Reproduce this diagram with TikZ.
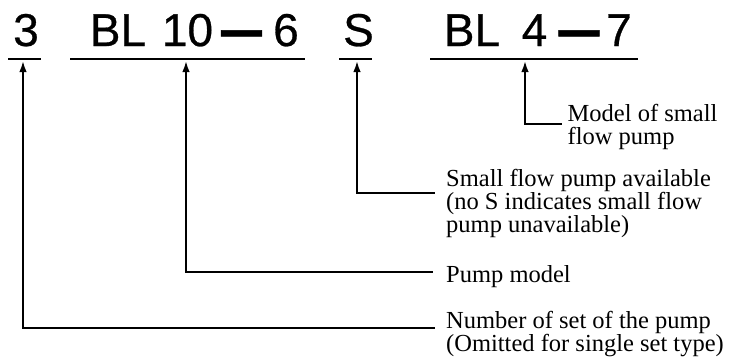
\documentclass[tikz,border=0pt]{standalone}
\usepackage{fontspec}
\setmainfont{Liberation Serif}
\newfontfamily\codefont[FakeBold=0.6]{Liberation Sans}
\usetikzlibrary{arrows.meta}
\begin{document}
\begin{tikzpicture}[x=1pt,y=-1pt,
  code/.style={font=\codefont\fontsize{46}{50}\selectfont, inner sep=0pt, anchor=base},
  codedash/.style={font=\codefont\fontsize{46}{50}\selectfont, inner sep=0pt, anchor=base},
  uline/.style={line width=2pt},
  conn/.style={line width=1.8pt, arrows={Latex[length=11pt,width=7.5pt]-}},
  lab/.style={font=\fontsize{24.5}{23}\selectfont, inner sep=0pt, anchor=base west}]
\useasboundingbox (0,0) rectangle (742,360);
% code line
\node[code] (c3) at (26,46) {3};
\node[code,anchor=base west] (cbl1) at (89.6,46) {BL};
\node[code] (c10) at (187.5,46) {10};
\node[codedash] (cd1) at (241.5,55.5) {\scalebox{1.6}[1.9]{–}};
\node[code] (c6) at (286,46) {6};
\node[code] (cs) at (358.5,46) {S};
\node[code,anchor=base west] (cbl2) at (443.6,46) {BL};
\node[code] (c4) at (534.5,46) {4};
\node[codedash] (cd2) at (579,55.5) {\scalebox{1.6}[1.9]{–}};
\node[code] (c7) at (619,46) {7};
% underlines
\draw[uline] (8,59) -- (41,59);
\draw[uline] (70,59) -- (305,59);
\draw[uline] (339,59) -- (372,59);
\draw[uline] (430,59) -- (638,59);
% connector coordinates
\coordinate (a3) at (23,61);
\coordinate (e3) at (435,328);
\coordinate (a10) at (186,61);
\coordinate (e10) at (433,272);
\coordinate (as) at (357,61);
\coordinate (es) at (435,193);
\coordinate (a4) at (525,61);
\coordinate (e4) at (562,124);
\draw[conn] (a3) |- (e3);
\draw[conn] (a10) |- (e10);
\draw[conn] (as) |- (es);
\draw[conn] (a4) |- (e4);
% labels
\node[lab] (m1) at (567.5,121) {Model of small};
\node[lab] (m2) at (567.5,144) {flow pump};
\node[lab] (s1) at (446,186) {Small flow pump available};
\node[lab] (s2) at (446,209) {(no S indicates small flow};
\node[lab] (s3) at (446,232) {pump unavailable)};
\node[lab] (p1) at (446,282) {Pump model};
\node[lab] (n1) at (446,328) {Number of set of the pump};
\node[lab] (n2) at (446,351) {(Omitted for single set type)};
\end{tikzpicture}
\end{document}
